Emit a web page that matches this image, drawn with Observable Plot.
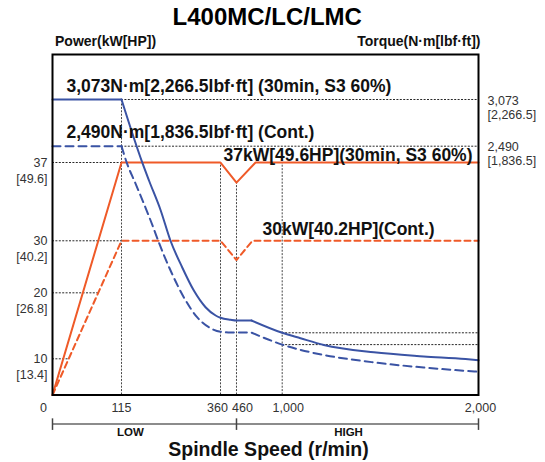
<!DOCTYPE html>
<html><head><meta charset="utf-8">
<script src="https://cdn.jsdelivr.net/npm/d3@7"></script>
<script src="https://cdn.jsdelivr.net/npm/@observablehq/plot@0.6"></script>
<style>body{margin:0;background:#fff;} #chart{width:545px;height:462px;}</style>
</head><body><div id="chart"></div>
<script>
// ---------- text ----------
const title = "L400MC/LC/LMC";
const leftAxisTitle = "Power(kW[HP])";
const rightAxisTitle = "Torque(N·m[lbf·ft])";
const xAxisTitle = "Spindle Speed (r/min)";

// ---------- ticks ----------
const speedTicks = [0, 115, 360, 460, 1000, 2000];
const speedTickLabels = ["0", "115", "360", "460", "1,000", "2,000"];
const powerTicks = [37, 30, 20, 10];
const powerTickLabels = ["37", "30", "20", "10"];
const powerTickHP = ["[49.6]", "[40.2]", "[26.8]", "[13.4]"];
const torqueTicks = [3073, 2490];
const torqueTickLabels = ["3,073", "2,490"];
const torqueTickLbf = ["[2,266.5]", "[1,836.5]"];
const rangeNames = ["LOW", "HIGH"];
const rangeBounds = [0, 460, 2000];

// ---------- power curves (r/min, kW) ----------
const power30minSpeed = [0, 115, 360, 460, 685, 2000];
const power30minKW    = [0, 37, 37, 35.2, 37, 37];
const powerContSpeed  = [0, 115, 360, 460, 648, 2000];
const powerContKW     = [0, 30, 30, 26.3, 30, 30];

// ---------- torque curves (r/min, N·m) ----------
const torque30minSpeed = [0, 115, 166, 183, 212, 236, 265, 294, 323, 348, 360, 423, 460, 637, 1000, 1093, 1212, 1467, 1721, 1934, 2000];
const torque30minNm    = [3073, 3073, 2307, 2097, 1754, 1410, 1104, 837, 646, 551, 525, 502, 494, 494, 353, 322, 284, 242, 219, 204, 197];
const torqueContSpeed  = [0, 115, 129, 150, 187, 212, 240, 269, 302, 331, 360, 423, 507, 640, 1000, 1093, 1212, 1467, 1721, 1934, 2000];
const torqueContNm     = [2490, 2490, 2288, 2059, 1639, 1333, 1029, 761, 532, 417, 365, 356, 356, 354, 286, 256, 227, 185, 156, 137, 132];

// ---------- reference guides ----------
const powerGuideKW = [37, 30, 20, 10];
const powerGuideToSpeed = [115, 115, 77, 28];
const torqueGuideNm = [3073, 2490, 353, 286];
const torqueGuideFromSpeed = [115, 115, 1000, 1000];
const speedGuideRpm = [360, 460, 1000];
const speedGuideTopKW = [37, 35.2, 37];
const rangeLabelSpeed = [137, 1338];

// ---------- layout (not data): schematic piecewise axes, in % of the plot box ----------
const W = 545, H = 462;
const speedPos = d3.scaleLinear().domain(speedTicks).range([0, 16.2, 39.44, 43.19, 53.92, 100]);
const powerLevel = d3.scaleLinear().domain([0, 10, 20, 30, 37]).range([0, 10.63, 30.01, 45.29, 68.28]);
const torqueLevel = d3.scaleLinear().domain([0, 353, 2490, 3073]).range([0, 18.27, 73.07, 86.78]);
const RED = "#ef5a28", BLUE = "#3a53a4";
const FONT = "'Liberation Sans', Arial, Helvetica, sans-serif";

const rows = (s, v, key) => s.map((d, i) => ({rpm: d, [key]: v[i]}));
function segments(s, v, corners) {
  const out = [];
  let seg = 0;
  s.forEach((d, i) => {
    out.push({rpm: d, Nm: v[i], seg});
    if (corners.includes(d) && i > 0 && i < s.length - 1) { seg++; out.push({rpm: d, Nm: v[i], seg}); }
  });
  return out;
}
const power30 = rows(power30minSpeed, power30minKW, "kW");
const powerCont = rows(powerContSpeed, powerContKW, "kW");
const torque30 = segments(torque30minSpeed, torque30minNm, [115, 637]);
const torqueCont = segments(torqueContSpeed, torqueContNm, [115, 640]);

const dot = {stroke: "#111", strokeWidth: 0.9, strokeDasharray: "2,1.4"};
const xShift = [-9, 0, -3, 6, 6, 2];

const annotations = [
  {text: "3,073N·m[2,266.5lbf·ft] (30min, S3 60%)", rpm: 0, y: torqueLevel(3073), dx: 14, dy: -13.5},
  {text: "2,490N·m[1,836.5lbf·ft] (Cont.)", rpm: 0, y: torqueLevel(2490), dx: 14, dy: -13.7},
  {text: "37kW[49.6HP](30min, S3 60%)", rpm: 360, y: powerLevel(37), dx: 3, dy: -7},
  {text: "30kW[40.2HP](Cont.)", rpm: 767, y: powerLevel(30), dx: 0, dy: -11}
];
const mid = {lineAnchor: "middle"};

const chart = Plot.plot({
  width: W, height: H,
  marginLeft: 52, marginRight: W - 478, marginTop: 54, marginBottom: H - 394.5,
  style: {fontFamily: FONT, background: "#fff", overflow: "visible"},
  x: {domain: [0, 100], axis: null},
  y: {domain: [0, 100], axis: null},
  marks: [
    // guides
    Plot.ruleY(powerGuideKW.map((k, i) => ({k, to: powerGuideToSpeed[i]})), {y: d => powerLevel(d.k), x1: 0, x2: d => speedPos(d.to), ...dot}),
    Plot.ruleY(torqueGuideNm.map((t, i) => ({t, from: torqueGuideFromSpeed[i]})), {y: d => torqueLevel(d.t), x1: d => speedPos(d.from), x2: 100, ...dot}),
    Plot.ruleX([115], {x: d => speedPos(d), y1: 0, y2: torqueLevel(3073), ...dot, stroke: "#333"}),
    Plot.ruleX(speedGuideRpm.map((r, i) => ({r, k: speedGuideTopKW[i]})), {x: d => speedPos(d.r), y1: 0, y2: d => powerLevel(d.k), ...dot, stroke: "#333"}),
    // power
    Plot.line(powerCont, {x: d => speedPos(d.rpm), y: d => powerLevel(d.kW), stroke: RED, strokeWidth: 2, strokeDasharray: "6,4"}),
    Plot.line(power30, {x: d => speedPos(d.rpm), y: d => powerLevel(d.kW), stroke: RED, strokeWidth: 2}),
    // torque
    Plot.line(torqueCont, {x: d => speedPos(d.rpm), y: d => torqueLevel(d.Nm), z: "seg", curve: "monotone-x", stroke: BLUE, strokeWidth: 2, strokeDasharray: "8,5"}),
    Plot.line(torque30, {x: d => speedPos(d.rpm), y: d => torqueLevel(d.Nm), z: "seg", curve: "monotone-x", stroke: BLUE, strokeWidth: 2}),
    Plot.frame({stroke: "#000", strokeWidth: 2}),
    // annotations
    ...annotations.map(a => Plot.text([a], {x: d => speedPos(d.rpm), y: "y", text: "text", textAnchor: "start", dx: a.dx, dy: a.dy,
      fontSize: 17.5, fontWeight: "bold", fill: "#111", ...mid})),
    // x tick labels
    ...speedTicks.map((t, i) => Plot.text([t], {x: d => speedPos(d), frameAnchor: "bottom", dy: 12.5, dx: xShift[i],
      text: () => speedTickLabels[i], fontSize: 12.5, fill: "#333", ...mid})),
    // power tick labels
    Plot.text(powerTicks, {y: d => powerLevel(d), frameAnchor: "left", dx: -5, dy: 0.5, textAnchor: "end",
      text: (d, i) => powerTickLabels[i], fontSize: 12.5, fill: "#333", ...mid}),
    Plot.text(powerTicks, {y: d => powerLevel(d), frameAnchor: "left", dx: -5, dy: 16, textAnchor: "end",
      text: (d, i) => powerTickHP[i], fontSize: 12.5, fill: "#333", ...mid}),
    // torque tick labels
    Plot.text(torqueTicks, {y: d => torqueLevel(d), frameAnchor: "right", dx: 9, dy: 1.2, textAnchor: "start",
      text: (d, i) => torqueTickLabels[i], fontSize: 12.5, fill: "#333", ...mid}),
    Plot.text(torqueTicks, {y: d => torqueLevel(d), frameAnchor: "right", dx: 9, dy: 15.2, textAnchor: "start",
      text: (d, i) => torqueTickLbf[i], fontSize: 12.5, fill: "#333", ...mid}),
    // LOW / HIGH bracket
    Plot.ruleY([-8.5], {y: d => d, x1: 0, x2: 100, stroke: "#666", strokeWidth: 1.5}),
    Plot.ruleX(rangeBounds, {x: d => speedPos(d), y1: -7, y2: -10.4, stroke: "#444", strokeWidth: 1.5}),
    Plot.text(rangeNames, {x: (d, i) => speedPos(rangeLabelSpeed[i]), frameAnchor: "bottom", dy: 37.5, text: d => d,
      fontSize: 11.5, fontWeight: "bold", fill: "#111", ...mid}),
    // titles
    Plot.text([title], {frameAnchor: "top", dx: 1.7, dy: -37, text: d => d, fontSize: 24, fontWeight: "bold", fill: "#000", ...mid}),
    Plot.text([leftAxisTitle], {frameAnchor: "top-left", dx: 2.5, dy: -13, textAnchor: "start", text: d => d,
      fontSize: 14, fontWeight: "bold", fill: "#111", ...mid}),
    Plot.text([rightAxisTitle], {frameAnchor: "top-right", dx: 2, dy: -13, textAnchor: "end", text: d => d,
      fontSize: 14, fontWeight: "bold", fill: "#111", ...mid}),
    Plot.text([xAxisTitle], {frameAnchor: "bottom", dx: 3, dy: 54.5, text: d => d,
      fontSize: 19.5, fontWeight: "bold", fill: "#111", ...mid})
  ]
});
document.getElementById("chart").appendChild(chart);
</script>
</body></html>
